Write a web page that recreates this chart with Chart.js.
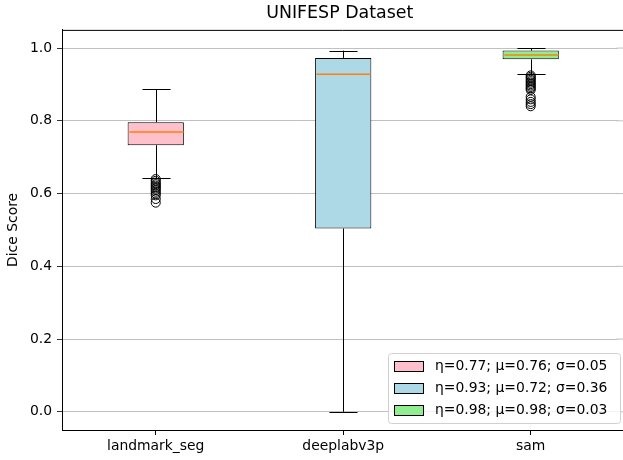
<!DOCTYPE html>
<html>
<head>
<meta charset="utf-8">
<script src="https://cdn.jsdelivr.net/npm/chart.js@4.4.1/dist/chart.umd.min.js"></script>
<style>
  html, body { margin: 0; padding: 0; overflow: hidden; background: #fff; }
  #wrap { width: 623px; height: 460px; position: relative; }
</style>
</head>
<body>
<div id="wrap"><canvas id="chart"></canvas></div>
<script>
const categories = ['landmark_seg', 'deeplabv3p', 'sam'];
const positions = [1, 2, 3];
const boxColors = ['pink', 'lightblue', 'lightgreen'];

// box statistics
const q1 = [0.733, 0.504, 0.969];
const q3 = [0.796, 0.973, 0.993];
const medians = [0.769, 0.928, 0.981];
const whiskerLow = [0.642, 0.0, 0.928];
const whiskerHigh = [0.887, 0.993, 0.999];
const means = [0.76, 0.72, 0.98];
const stds = [0.05, 0.36, 0.03];

const outliersLandmark = [0.640, 0.635, 0.630, 0.626, 0.622, 0.618, 0.614, 0.610, 0.605, 0.600, 0.595, 0.585, 0.575];
const outliersDeeplab = [];
const outliersSam = [0.925, 0.921, 0.917, 0.913, 0.909, 0.905, 0.901, 0.897, 0.893, 0.889, 0.885, 0.866, 0.859, 0.852, 0.846, 0.840];
const outliers = [outliersLandmark, outliersDeeplab, outliersSam];

const yTicks = [0.0, 0.2, 0.4, 0.6, 0.8, 1.0];

const FONT = "'DejaVu Sans', sans-serif";

const outlierPoints = [];
outliers.forEach((list, i) => {
  list.forEach(v => outlierPoints.push({ x: positions[i], y: v }));
});

const legendLabels = categories.map((_, i) =>
  `η=${medians[i].toFixed(2)}; μ=${means[i].toFixed(2)}; σ=${stds[i].toFixed(2)}`
);

// the axes run past the right edge of the figure: carry grid and top spine to the edge
const gridToEdge = {
  id: 'gridToEdge',
  beforeDatasetsDraw(chart) {
    const ctx = chart.ctx;
    const a = chart.chartArea;
    const y = chart.scales.y;
    ctx.save();
    ctx.strokeStyle = '#b0b0b0';
    ctx.lineWidth = 0.8;
    ctx.beginPath();
    yTicks.forEach(v => {
      const py = y.getPixelForValue(v);
      ctx.moveTo(a.right - 1, py);
      ctx.lineTo(chart.width, py);
    });
    ctx.stroke();
    ctx.restore();
  }
};

const boxExtras = {
  id: 'boxExtras',
  afterDatasetsDraw(chart) {
    const ctx = chart.ctx;
    const x = chart.scales.x;
    const y = chart.scales.y;
    const bars = chart.getDatasetMeta(0).data;
    ctx.save();
    positions.forEach((p, i) => {
      const cx = Math.round(x.getPixelForValue(p)) + 0.5;
      const half = bars[i].width / 2;
      const cap = half / 2;
      ctx.strokeStyle = '#000';
      ctx.lineWidth = 1;
      ctx.beginPath();
      // whiskers
      ctx.moveTo(cx, y.getPixelForValue(q3[i]));
      ctx.lineTo(cx, y.getPixelForValue(whiskerHigh[i]));
      ctx.moveTo(cx, y.getPixelForValue(q1[i]));
      ctx.lineTo(cx, y.getPixelForValue(whiskerLow[i]));
      // caps
      const hy = Math.round(y.getPixelForValue(whiskerHigh[i])) + 0.5;
      const ly = Math.round(y.getPixelForValue(whiskerLow[i])) + 0.5;
      ctx.moveTo(cx - cap, hy);
      ctx.lineTo(cx + cap, hy);
      ctx.moveTo(cx - cap, ly);
      ctx.lineTo(cx + cap, ly);
      ctx.stroke();
      // median
      ctx.strokeStyle = '#ff7f0e';
      ctx.lineWidth = 1.5;
      ctx.beginPath();
      const my = y.getPixelForValue(medians[i]);
      ctx.moveTo(cx - half + 1, my);
      ctx.lineTo(cx + half - 1, my);
      ctx.stroke();
    });
    // top spine
    const a = chart.chartArea;
    ctx.strokeStyle = '#000';
    ctx.lineWidth = 1;
    ctx.beginPath();
    ctx.moveTo(a.left, a.top + 0.5);
    ctx.lineTo(chart.width, a.top + 0.5);
    ctx.moveTo(a.right - 1, a.bottom + 0.5);
    ctx.lineTo(chart.width, a.bottom + 0.5);
    ctx.stroke();
    ctx.restore();
  }
};

const boxLegend = {
  id: 'boxLegend',
  afterDraw(chart) {
    const ctx = chart.ctx;
    const a = chart.chartArea;
    const w = 232, h = 70;
    const left = 388;
    const bottom = a.bottom - 7, top = bottom - h;
    ctx.save();
    ctx.beginPath();
    ctx.roundRect(left + 0.5, top + 0.5, w, h, 3);
    ctx.fillStyle = 'rgba(255,255,255,0.8)';
    ctx.fill();
    ctx.strokeStyle = '#d0d0d0';
    ctx.lineWidth = 1;
    ctx.stroke();
    ctx.font = `13.9px ${FONT}`;
    ctx.textBaseline = 'middle';
    legendLabels.forEach((label, i) => {
      const ry = top + 12.5 + i * 22;
      ctx.fillStyle = boxColors[i];
      ctx.fillRect(left + 6.5, Math.round(ry - 5) + 0.5, 29, 10);
      ctx.strokeStyle = '#000';
      ctx.strokeRect(left + 6.5, Math.round(ry - 5) + 0.5, 29, 10);
      ctx.fillStyle = '#000';
      ctx.fillText(label, left + 47, ry + 1);
    });
    ctx.restore();
  }
};

new Chart(document.getElementById('chart'), {
  type: 'bar',
  data: {
    datasets: [
      {
        type: 'bar',
        data: positions.map((p, i) => ({ x: p, y: [q1[i], q3[i]] })),
        backgroundColor: boxColors,
        borderColor: '#000',
        borderWidth: 1,
        borderSkipped: false,
        categoryPercentage: 1,
        barPercentage: 0.3,
        order: 2
      },
      {
        type: 'scatter',
        data: outlierPoints,
        pointRadius: 4.5,
        pointBackgroundColor: 'rgba(0,0,0,0)',
        pointBorderColor: '#000',
        pointBorderWidth: 1,
        showLine: false,
        order: 1
      }
    ]
  },
  options: {
    responsive: true,
    maintainAspectRatio: false,
    animation: false,
    events: [],
    layout: { padding: 0 },
    plugins: {
      legend: { display: false },
      tooltip: { enabled: false },
      title: {
        display: true,
        text: 'UNIFESP Dataset',
        fullSize: false,
        color: '#000',
        font: { family: FONT, size: 17.4, weight: 'normal' },
        padding: { top: 3, bottom: 6 }
      }
    },
    scales: {
      x: {
        type: 'linear',
        min: 0.5,
        max: 3.463,
        offset: false,
        afterBuildTicks(scale) { scale.ticks = positions.map(v => ({ value: v })); },
        grid: { display: true, offset: false, drawOnChartArea: false, drawTicks: true, tickLength: 5, tickColor: '#000' },
        border: { display: true, color: '#000', width: 1 },
        ticks: {
          color: '#000',
          font: { family: FONT, size: 13.9 },
          padding: 3,
          maxRotation: 0,
          autoSkip: false,
          callback: v => categories[positions.indexOf(v)]
        },
        afterFit(scale) { scale.height = 30; }
      },
      y: {
        min: -0.05,
        max: 1.05,
        afterBuildTicks(scale) { scale.ticks = yTicks.map(v => ({ value: v })); },
        grid: { color: '#b0b0b0', lineWidth: 0.8, tickLength: 5, tickColor: '#000' },
        border: { display: true, color: '#000', width: 1 },
        ticks: {
          color: '#000',
          font: { family: FONT, size: 13.9 },
          padding: 5,
          callback: v => Number(v).toFixed(1)
        },
        title: {
          display: true,
          text: 'Dice Score',
          color: '#000',
          font: { family: FONT, size: 13.9 },
          padding: { top: 5, bottom: 0 }
        },
        afterFit(scale) { scale.width = 62; }
      }
    }
  },
  plugins: [gridToEdge, boxExtras, boxLegend]
});
</script>
</body>
</html>
